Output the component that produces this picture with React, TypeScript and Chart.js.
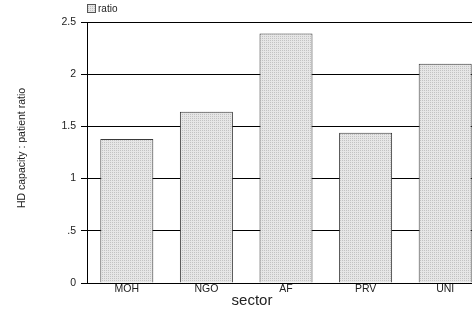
import React, { useEffect, useRef } from "react";
import { Chart, registerables } from "chart.js";

Chart.register(...registerables);

const categories = ["MOH", "NGO", "AF", "PRV", "UNI"];
const ratioValues = [1.38, 1.64, 2.39, 1.44, 2.1];
const yTickValues = [0, 0.5, 1, 1.5, 2, 2.5];
const yTickLabels = ["0", ".5", "1", "1.5", "2", "2.5"];
const seriesLabel = "ratio";
const xTitle = "sector";
const yTitle = "HD capacity : patient ratio";

const FONT = "'Liberation Sans', Arial, sans-serif";

function makePattern(ctx: CanvasRenderingContext2D): CanvasPattern | string {
  const c = document.createElement("canvas");
  c.width = 2;
  c.height = 2;
  const p = c.getContext("2d");
  if (!p) return "#d9d9d9";
  p.fillStyle = "#e6e6e6";
  p.fillRect(0, 0, 2, 2);
  p.fillStyle = "#c2c2c2";
  p.fillRect(0, 0, 1, 1);
  return ctx.createPattern(c, "repeat") || "#d9d9d9";
}

export default function App() {
  const canvasRef = useRef<HTMLCanvasElement | null>(null);

  useEffect(() => {
    const canvas = canvasRef.current;
    if (!canvas) return;
    const ctx = canvas.getContext("2d");
    if (!ctx) return;
    const pattern = makePattern(ctx);

    const textPlugin = {
      id: "customText",
      afterDraw(chart: any) {
        const c = chart.ctx as CanvasRenderingContext2D;
        const area = chart.chartArea;
        c.save();
        // legend
        c.fillStyle = pattern as any;
        c.fillRect(area.left, 4, 8, 8);
        c.strokeStyle = "#555";
        c.lineWidth = 1;
        c.strokeRect(area.left + 0.5, 4.5, 8, 8);
        c.fillStyle = "#222";
        c.font = `10px ${FONT}`;
        c.textAlign = "left";
        c.textBaseline = "middle";
        c.fillText(seriesLabel, area.left + 11, 9);
        // x title
        c.font = `15px ${FONT}`;
        c.textAlign = "center";
        c.textBaseline = "alphabetic";
        c.fillText(xTitle, 252, 305);
        // y title
        c.translate(22, 148);
        c.rotate(-Math.PI / 2);
        c.font = `10.5px ${FONT}`;
        c.textAlign = "center";
        c.textBaseline = "middle";
        c.fillText(yTitle, 0, 0);
        c.restore();
      },
    };

    const chart = new Chart(canvas, {
      type: "bar",
      data: {
        labels: categories,
        datasets: [
          {
            label: seriesLabel,
            data: ratioValues,
            backgroundColor: pattern as any,
            borderColor: "#3a3a3a",
            borderWidth: 1,
            barPercentage: 0.666,
            categoryPercentage: 1,
          },
        ],
      },
      options: {
        responsive: false,
        animation: false,
        layout: { padding: { top: 22, left: 0, right: 5, bottom: 0 } },
        plugins: {
          legend: { display: false },
          tooltip: { enabled: false },
        },
        scales: {
          x: {
            grid: { display: false, drawTicks: false, tickLength: 0 },
            border: { display: true, color: "#000" },
            ticks: {
              font: { family: FONT, size: 10.5 },
              color: "#222",
              padding: 0,
              maxRotation: 0,
            },
            afterFit: (s: any) => {
              s.height = 30;
            },
          },
          y: {
            min: 0,
            max: 2.5,
            afterBuildTicks: (s: any) => {
              s.ticks = yTickValues.map((v) => ({ value: v }));
            },
            ticks: {
              callback: (value: any) => {
                const i = yTickValues.indexOf(Number(value));
                return i >= 0 ? yTickLabels[i] : "";
              },
              font: { family: FONT, size: 10.5 },
              color: "#222",
              padding: 5,
            },
            grid: { color: "#000", tickLength: 6, tickColor: "#000", lineWidth: 1 },
            border: { display: true, color: "#000" },
            afterFit: (s: any) => {
              s.width = 87;
            },
          },
        },
      } as any,
      plugins: [textPlugin],
    });

    return () => chart.destroy();
  }, []);

  return (
    <div
      style={{
        position: "fixed",
        left: 0,
        top: 0,
        width: 472,
        height: 313,
        overflow: "hidden",
        background: "#fff",
      }}
    >
      <canvas ref={canvasRef} width={490} height={313} style={{ display: "block" }} />
    </div>
  );
}
